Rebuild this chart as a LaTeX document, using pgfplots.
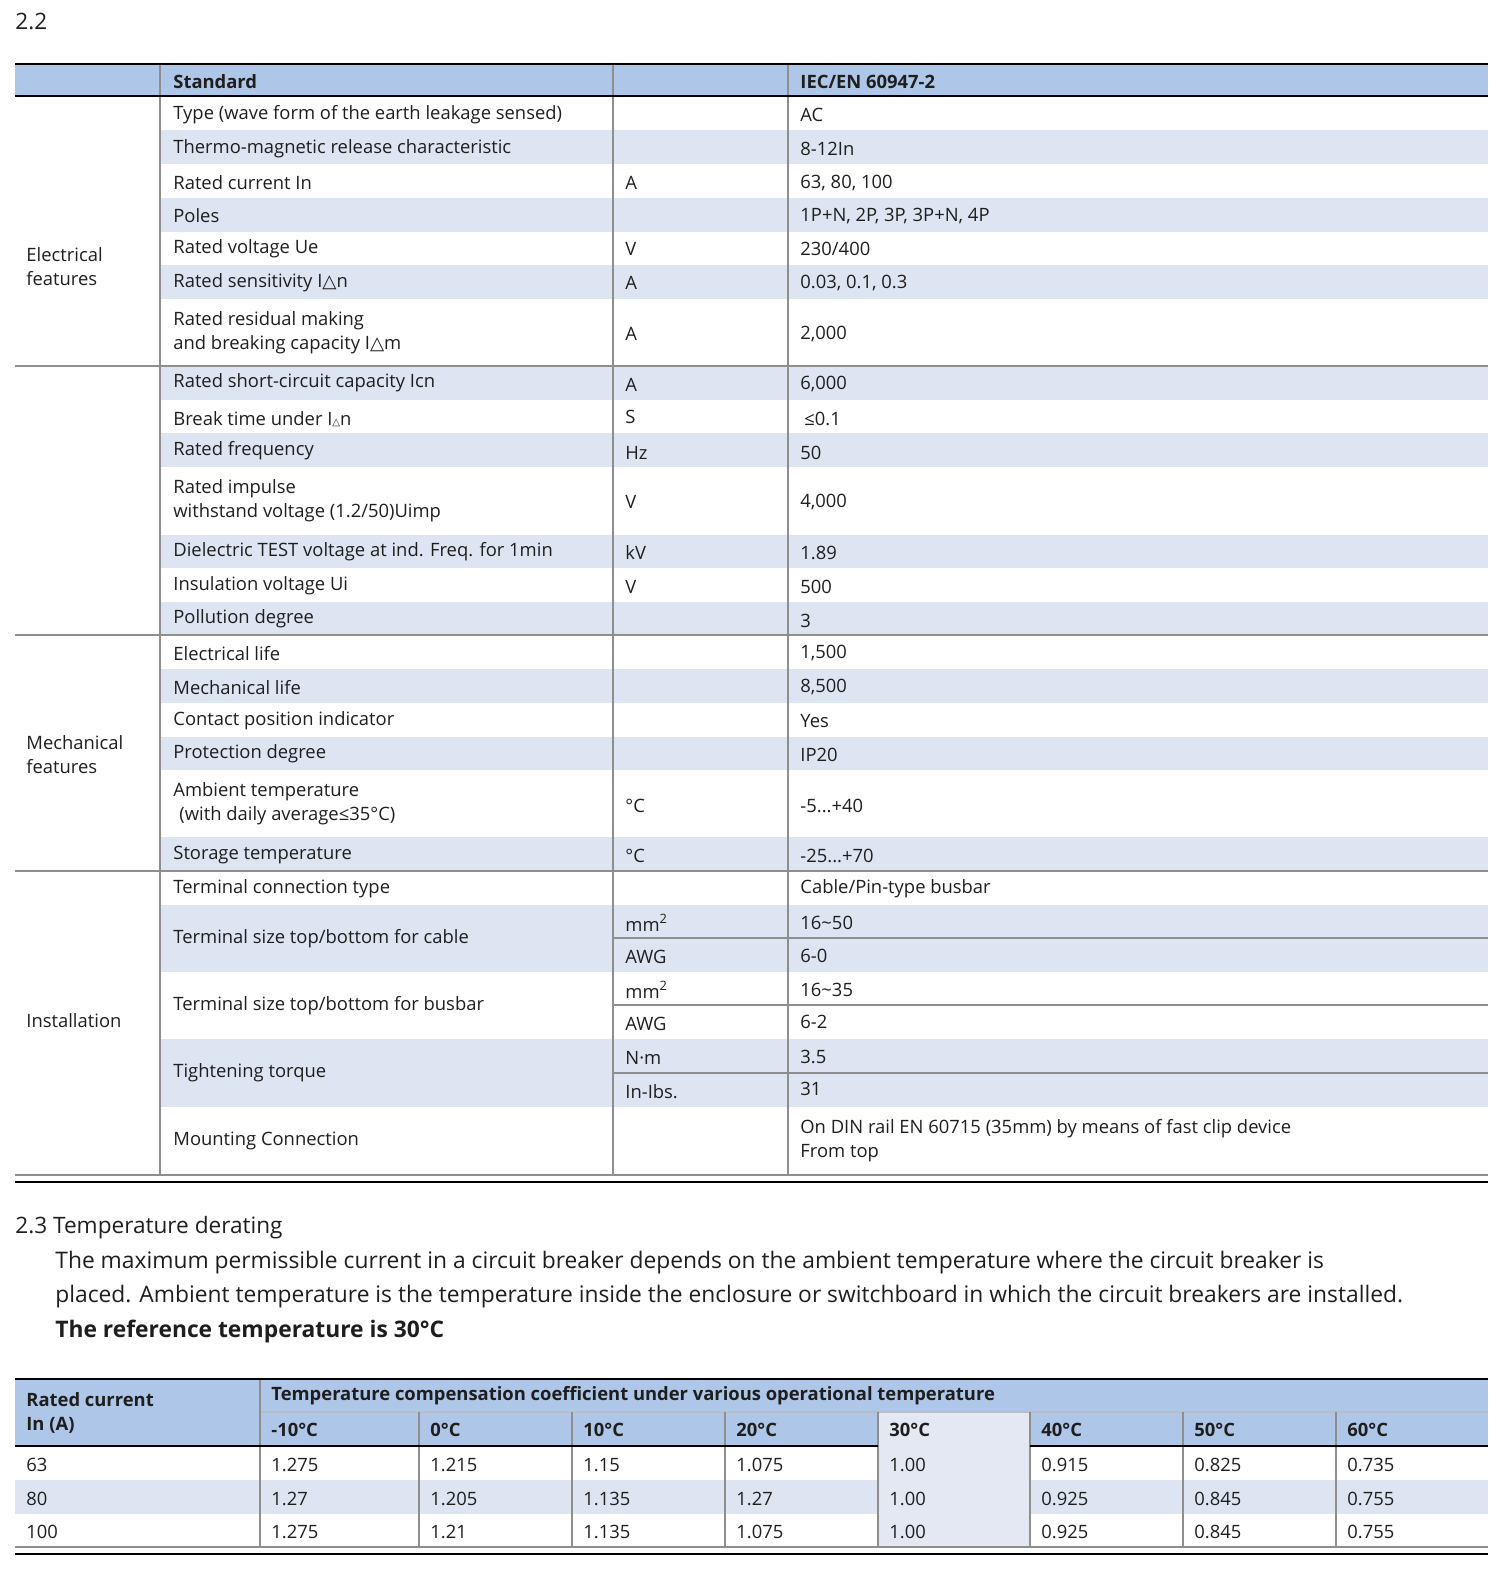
\documentclass[border=0pt]{standalone}
\usepackage{pgfplots}
\pgfplotsset{compat=1.18}
\usepackage{fontspec}
\setmainfont{Open Sans}
\newfontfamily\sym{DejaVu Sans}

\definecolor{hdr}{HTML}{AEC6E8}
\definecolor{shd}{HTML}{DEE5F2}
\definecolor{col30}{HTML}{E3E8F2}
\definecolor{rule}{HTML}{8E8E8E}
\definecolor{ink}{HTML}{1E1E1E}

% text at pixel position (x, y centre)
\newcommand{\T}[3]{\node[anchor=west,inner sep=0pt,yshift=-1pt,align=left,text=ink,font=\fontsize{9.2}{12}\selectfont] at (axis cs:#1,#2) {#3};}
\newcommand{\TB}[3]{\node[anchor=west,inner sep=0pt,yshift=-1pt,align=left,text=ink,font=\fontsize{9.2}{12}\selectfont\bfseries] at (axis cs:#1,#2) {#3};}
\newcommand{\band}[2]{\fill[shd] (axis cs:160,#1) rectangle (axis cs:1488,#2);}
\newcommand{\hl}[4][rule,line width=0.6pt]{\draw[#1] (axis cs:#2,#4) -- (axis cs:#3,#4);}
\newcommand{\vl}[4][rule,line width=0.6pt]{\draw[#1] (axis cs:#4,#2) -- (axis cs:#4,#3);}
\newcommand{\tri}{{\sym △}}
\newcommand{\dg}{°C}

\begin{document}
\begin{tikzpicture}
\begin{axis}[
    scale only axis,
    width=750pt, height=785.5pt,
    xmin=0, xmax=1500, ymin=0, ymax=1571,
    y dir=reverse,
    hide axis,
    clip=false,
  ]
\path (axis cs:0,0) rectangle (axis cs:1500,1571);

%% ---------- 2.2 table ----------
\node[anchor=west,inner sep=0pt,text=ink,font=\fontsize{11.3}{14}\selectfont] at (axis cs:15,21) {2.2};
\fill[hdr] (axis cs:15,63) rectangle (axis cs:1488,97);
\band{130}{164}
\band{198}{232}
\band{265}{299}
\band{366}{400}
\band{433}{467}
\band{535}{568}
\band{602}{635}
\band{669}{703}
\band{737}{770}
\band{837}{871}
\band{905}{972}
\band{1039}{1107}

\vl{63}{1175}{160}
\vl{63}{1175}{613}
\vl{63}{1175}{788}
\hl{15}{1488}{366}
\hl{15}{1488}{635}
\hl{15}{1488}{871}
\hl{613}{1488}{938}
\hl{613}{1488}{1005}
\hl{613}{1488}{1073}
\hl{15}{1488}{1175}
\hl[black,line width=1.4pt]{15}{1488}{64}
\hl[black,line width=1.2pt]{15}{1488}{96}
\hl[black,line width=1.4pt]{15}{1488}{1182}

\TB{173}{80}{Standard}
\TB{800}{80}{IEC/EN 60947-2}

\T{26}{265}{Electrical\\features}
\T{26}{753}{Mechanical\\features}
\T{26}{1019}{Installation}

\T{173}{113}{Type (wave form of the earth leakage sensed)}
\T{800}{113}{AC}
\T{173}{147}{Thermo-magnetic release characteristic}
\T{800}{147}{8-12In}
\T{173}{181}{Rated current In}
\T{625}{181}{A}
\T{800}{181}{63, 80, 100}
\T{173}{214}{Poles}
\T{800}{214}{1P+N, 2P, 3P, 3P+N, 4P}
\T{173}{247}{Rated voltage Ue}
\T{625}{247}{V}
\T{800}{247}{230/400}
\T{173}{281}{Rated sensitivity I\tri n}
\T{625}{281}{A}
\T{800}{281}{0.03, 0.1, 0.3}
\T{173}{331}{Rated residual making\\and breaking capacity I\tri m}
\T{625}{332}{A}
\T{800}{332}{2,000}

\T{173}{381}{Rated short-circuit capacity Icn}
\T{625}{383}{A}
\T{800}{382}{6,000}
\T{173}{417}{Break time under I{\sym\fontsize{5}{5}\selectfont △}n}
\T{625}{415}{S}
\T{804}{417}{≤0.1}
\T{173}{449}{Rated frequency}
\T{625}{451}{Hz}
\T{800}{451}{50}
\T{173}{499}{Rated impulse\\withstand voltage (1.2/50)Uimp}
\T{625}{500}{V}
\T{800}{500}{4,000}
\T{173}{550}{Dielectric TEST voltage at ind. Freq. for 1min}
\T{625}{551}{kV}
\T{800}{551}{1.89}
\T{173}{584}{Insulation voltage Ui}
\T{625}{585}{V}
\T{800}{585}{500}
\T{173}{617}{Pollution degree}
\T{800}{619}{3}

\T{173}{652}{Electrical life}
\T{800}{651}{1,500}
\T{173}{686}{Mechanical life}
\T{800}{685}{8,500}
\T{173}{719}{Contact position indicator}
\T{800}{719}{Yes}
\T{173}{752}{Protection degree}
\T{800}{753}{IP20}
\T{173}{802}{Ambient temperature\\\hspace*{3pt}(with daily average≤35\dg)}
\T{625}{804}{\dg}
\T{800}{804}{-5...+40}
\T{173}{853}{Storage temperature}
\T{625}{854}{\dg}
\T{800}{854}{-25...+70}

\T{173}{887}{Terminal connection type}
\T{800}{887}{Cable/Pin-type busbar}
\T{173}{937}{Terminal size top/bottom for cable}
\T{625}{921}{mm\textsuperscript{2}}
\T{800}{921}{16\textasciitilde 50}
\T{625}{955}{AWG}
\T{800}{954}{6-0}
\T{173}{1004}{Terminal size top/bottom for busbar}
\T{625}{988}{mm\textsuperscript{2}}
\T{800}{988}{16\textasciitilde 35}
\T{625}{1022}{AWG}
\T{800}{1020}{6-2}
\T{173}{1071}{Tightening torque}
\T{625}{1056}{N·m}
\T{800}{1055}{3.5}
\T{625}{1090}{In-Ibs.}
\T{800}{1087}{31}
\T{173}{1139}{Mounting Connection}
\T{800}{1139}{On DIN rail EN 60715 (35mm) by means of fast clip device\\From top}

%% ---------- 2.3 text ----------
\node[anchor=west,inner sep=0pt,yshift=-1pt,text=ink,font=\fontsize{11.3}{14}\selectfont] at (axis cs:15,1226) {2.3 Temperature derating};
\node[anchor=west,inner sep=0pt,yshift=-1pt,text=ink,font=\fontsize{11.4}{15}\selectfont] at (axis cs:55,1261) {The maximum permissible current in a circuit breaker depends on the ambient temperature where the circuit breaker is};
\node[anchor=west,inner sep=0pt,yshift=-1pt,text=ink,font=\fontsize{11.4}{15}\selectfont] at (axis cs:55,1295) {placed. Ambient temperature is the temperature inside the enclosure or switchboard in which the circuit breakers are installed.};
\node[anchor=west,inner sep=0pt,yshift=-1pt,text=ink,font=\fontsize{11.4}{15}\selectfont\bfseries] at (axis cs:55,1329) {The reference temperature is 30\dg};

%% ---------- derating table ----------
\fill[hdr] (axis cs:15,1379) rectangle (axis cs:1488,1446);
\fill[shd] (axis cs:15,1480) rectangle (axis cs:1488,1514);
\fill[col30] (axis cs:878,1412) rectangle (axis cs:1030,1547);
\hl[white!70!hdr!80!black,line width=0.6pt]{260}{1488}{1412}
\vl{1379}{1547}{260}
\vl{1412}{1547}{419}
\vl{1412}{1547}{572}
\vl{1412}{1547}{725}
\vl{1412}{1547}{878}
\vl{1412}{1547}{1030}
\vl{1412}{1547}{1183}
\vl{1412}{1547}{1336}
\hl{15}{1488}{1547}
\hl[black,line width=1.4pt]{15}{1488}{1379}
\hl[black,line width=1.2pt]{15}{878}{1446}
\hl[black,line width=1.2pt]{1030}{1488}{1446}
\hl[black,line width=1.4pt]{15}{1488}{1554}

\TB{26}{1411}{Rated current\\In (A)}
\TB{271}{1394}{Temperature compensation coefficient under various operational temperature}
\TB{271}{1428}{-10\dg}
\TB{430}{1428}{0\dg}
\TB{583}{1428}{10\dg}
\TB{736}{1428}{20\dg}
\TB{889}{1428}{30\dg}
\TB{1041}{1428}{40\dg}
\TB{1194}{1428}{50\dg}
\TB{1347}{1428}{60\dg}

\T{26}{1463}{63}
\T{271}{1463}{1.275}
\T{430}{1463}{1.215}
\T{583}{1463}{1.15}
\T{736}{1463}{1.075}
\T{889}{1463}{1.00}
\T{1041}{1463}{0.915}
\T{1194}{1463}{0.825}
\T{1347}{1463}{0.735}

\T{26}{1497}{80}
\T{271}{1497}{1.27}
\T{430}{1497}{1.205}
\T{583}{1497}{1.135}
\T{736}{1497}{1.27}
\T{889}{1497}{1.00}
\T{1041}{1497}{0.925}
\T{1194}{1497}{0.845}
\T{1347}{1497}{0.755}

\T{26}{1530}{100}
\T{271}{1530}{1.275}
\T{430}{1530}{1.21}
\T{583}{1530}{1.135}
\T{736}{1530}{1.075}
\T{889}{1530}{1.00}
\T{1041}{1530}{0.925}
\T{1194}{1530}{0.845}
\T{1347}{1530}{0.755}
\end{axis}
\end{tikzpicture}
\end{document}
